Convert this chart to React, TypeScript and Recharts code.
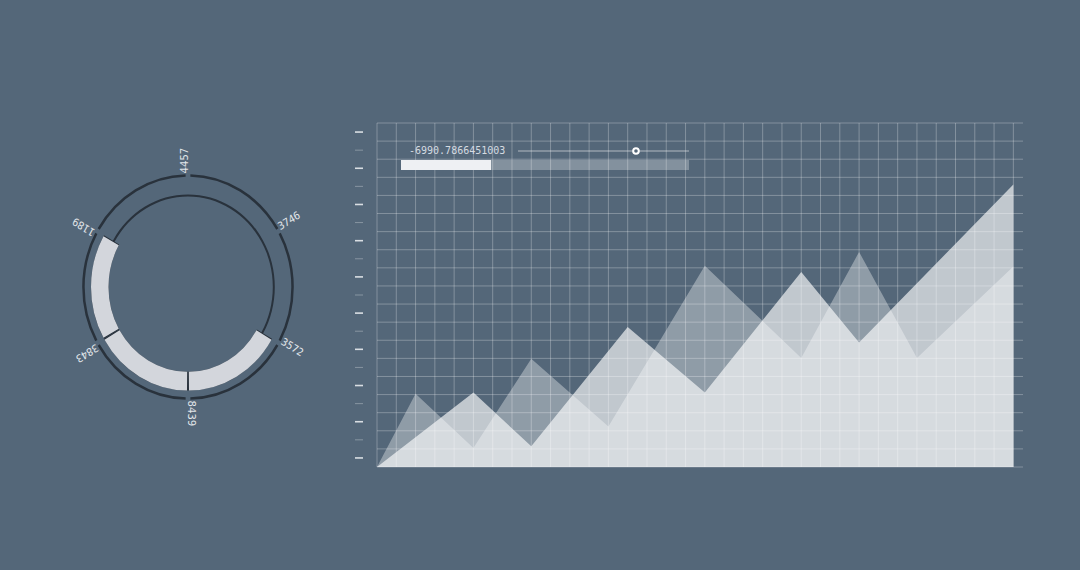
import {
  Area,
  AreaChart,
  Bar,
  BarChart,
  CartesianGrid,
  Cell,
  Line,
  LineChart,
  Pie,
  PieChart,
  ReferenceDot,
  XAxis,
  YAxis,
} from 'recharts';

// ring (left)
const RING_LABELS = ['4457', '3746', '3572', '8439', '3843', '1189'];
const RING_BAND = [0, 0, 1, 1, 1, 0];

// area chart (right)
const AREA_X = [0, 2, 5, 8, 12, 13, 17, 22, 25, 28, 33];
const SERIE_A = [0, 4.05, 1.05, 5.98, 2.24, null, 11.12, 6.02, 11.88, 6.02, 11.07];
const SERIE_B = [0, null, 4.12, 1.14, null, 7.73, 4.12, 10.77, 6.88, null, 15.6];

const X_GRID = [0, 1, 2, 3, 4, 5, 6, 7, 8, 9, 10, 11, 12, 13, 14, 15, 16, 17, 18, 19, 20, 21, 22, 23, 24, 25, 26, 27, 28, 29, 30, 31, 32, 33];
const Y_GRID = [0, 1, 2, 3, 4, 5, 6, 7, 8, 9, 10, 11, 12, 13, 14, 15, 16, 17, 18, 19];
const Y_MARKS = [0.5, 1.5, 2.5, 3.5, 4.5, 5.5, 6.5, 7.5, 8.5, 9.5, 10.5, 11.5, 12.5, 13.5, 14.5, 15.5, 16.5, 17.5, 18.5];

// slider widget
const SLIDER_LABEL = '-6990.7866451003';
const SLIDER_TRACK = [{ t: 0, v: 0 }, { t: 1, v: 0 }];
const SLIDER_KNOB = 0.69;
const PROGRESS = [{ name: 'progreso', done: 0.3125, rest: 0.6875 }];

const BG = '#546779';
const DARK = '#29323c';
const LIGHT = '#d3d6dc';
const MONO = '"DejaVu Sans Mono", "Liberation Mono", monospace';

const ringData = RING_LABELS.map((label, i) => ({ label, slot: 1, on: RING_BAND[i] }));
const areaData = AREA_X.map((x, i) => ({ x, a: SERIE_A[i], b: SERIE_B[i] }));

const RING_GAP = 2.6;
const BAND_GAP = 1.2;

function RingLabel(props: any) {
  const { cx, cy, midAngle, index, name } = props;
  const rad = Math.PI / 180;
  const r = 106.5;
  const x = cx + r * Math.cos(-midAngle * rad);
  const y = cy + r * Math.sin(-midAngle * rad);
  return (
    <text
      x={x}
      y={y}
      transform={`rotate(${-midAngle} ${x} ${y})`}
      textAnchor="start"
      fill="#e2e6ea"
      fontSize={10}
      fontFamily={MONO}
    >
      {name ?? RING_LABELS[index]}
    </text>
  );
}

function MarkTick(props: any) {
  const { x, y, index } = props;
  const strong = index % 2 === 0;
  return (
    <line
      x1={x - 22}
      x2={x - 14}
      y1={y}
      y2={y}
      stroke="#e8ebee"
      strokeOpacity={strong ? 0.9 : 0.35}
      strokeWidth={strong ? 1.6 : 1}
    />
  );
}

export default function App() {
  return (
    <div style={{ position: 'absolute', left: 0, top: 0, width: 1080, height: 570, background: BG, overflow: 'hidden' }}>
      {/* anillo */}
      <div
        style={{
          position: 'absolute',
          left: 37.8,
          top: 136.5,
          width: 300,
          height: 300,
          transform: 'scaleY(1.067)',
          transformOrigin: 'center',
        }}
      >
        <PieChart width={300} height={300} margin={{ top: 0, right: 0, bottom: 0, left: 0 }}>
          <Pie
            data={[{ label: 'inner', slot: 1 }]}
            dataKey="slot"
            cx="50%"
            cy="50%"
            innerRadius={84.8}
            outerRadius={86.8}
            startAngle={90}
            endAngle={-270}
            fill={DARK}
            stroke="none"
            isAnimationActive={false}
          />
          <Pie
            data={ringData}
            dataKey="slot"
            nameKey="label"
            cx="50%"
            cy="50%"
            innerRadius={79.5}
            outerRadius={97}
            startAngle={90}
            endAngle={-270}
            stroke="none"
            isAnimationActive={false}
          >
            {ringData.map((d, i) => (
              <Cell key={`track-${i}`} fill={d.on ? DARK : 'transparent'} />
            ))}
          </Pie>
          <Pie
            data={ringData}
            dataKey="slot"
            nameKey="label"
            cx="50%"
            cy="50%"
            innerRadius={79.5}
            outerRadius={97}
            startAngle={90 - BAND_GAP / 2}
            endAngle={-270 - BAND_GAP / 2}
            paddingAngle={BAND_GAP}
            stroke="none"
            isAnimationActive={false}
          >
            {ringData.map((d, i) => (
              <Cell key={`band-${i}`} fill={d.on ? LIGHT : 'transparent'} />
            ))}
          </Pie>
          <Pie
            data={ringData}
            dataKey="slot"
            nameKey="label"
            cx="50%"
            cy="50%"
            innerRadius={103.3}
            outerRadius={105.8}
            startAngle={90 - RING_GAP / 2}
            endAngle={-270 - RING_GAP / 2}
            paddingAngle={RING_GAP}
            fill={DARK}
            stroke="none"
            isAnimationActive={false}
          />
          <Pie
            data={ringData}
            dataKey="slot"
            nameKey="label"
            cx="50%"
            cy="50%"
            innerRadius={106}
            outerRadius={106}
            startAngle={120}
            endAngle={-240}
            fill="none"
            stroke="none"
            label={RingLabel}
            labelLine={false}
            isAnimationActive={false}
          />
        </PieChart>
      </div>

      {/* areas */}
      <div style={{ position: 'absolute', left: 340, top: 100, width: 700, height: 390 }}>
        <AreaChart width={700} height={390} data={areaData} margin={{ top: 23, right: 17, bottom: 23, left: 15 }}>
          <CartesianGrid
            horizontalValues={Y_GRID}
            verticalValues={X_GRID}
            stroke="#ffffff"
            strokeOpacity={0.28}
          />
          <XAxis type="number" dataKey="x" domain={[0, 33.5]} ticks={X_GRID} interval={0} hide />
          <YAxis
            type="number"
            domain={[0, 19]}
            ticks={Y_MARKS}
            interval={0}
            width={22}
            axisLine={false}
            tickLine={false}
            tickSize={0}
            tickMargin={0}
            tick={(p: any) => <MarkTick {...p} />}
          />
          <Area
            type="linear"
            dataKey="a"
            connectNulls
            fill="#ffffff"
            fillOpacity={0.35}
            stroke="none"
            dot={false}
            activeDot={false}
            isAnimationActive={false}
          />
          <Area
            type="linear"
            dataKey="b"
            connectNulls
            fill="#ffffff"
            fillOpacity={0.64}
            stroke="none"
            dot={false}
            activeDot={false}
            isAnimationActive={false}
          />
        </AreaChart>
      </div>

      {/* widget */}
      <div
        style={{
          position: 'absolute',
          left: 409,
          top: 145,
          fontFamily: MONO,
          fontSize: 10,
          lineHeight: '12px',
          color: '#d5dbe1',
          whiteSpace: 'nowrap',
        }}
      >
        {SLIDER_LABEL}
      </div>
      <div style={{ position: 'absolute', left: 518, top: 146, width: 171, height: 10 }}>
        <LineChart width={171} height={10} data={SLIDER_TRACK} margin={{ top: 0, right: 0, bottom: 0, left: 0 }}>
          <XAxis type="number" dataKey="t" domain={[0, 1]} hide />
          <YAxis type="number" domain={[-1, 1]} hide />
          <Line
            type="linear"
            dataKey="v"
            stroke="#ffffff"
            strokeOpacity={0.55}
            strokeWidth={1}
            dot={false}
            activeDot={false}
            isAnimationActive={false}
          />
          <ReferenceDot x={SLIDER_KNOB} y={0} r={2.8} fill={BG} stroke="#ffffff" strokeWidth={2} />
        </LineChart>
      </div>
      <div style={{ position: 'absolute', left: 401, top: 159.5, width: 288, height: 10 }}>
        <BarChart
          width={288}
          height={10}
          data={PROGRESS}
          layout="vertical"
          barCategoryGap={0}
          margin={{ top: 0, right: 0, bottom: 0, left: 0 }}
        >
          <XAxis type="number" domain={[0, 1]} hide />
          <YAxis type="category" dataKey="name" hide />
          <Bar dataKey="done" stackId="p" fill="#eef0f3" isAnimationActive={false} />
          <Bar dataKey="rest" stackId="p" fill="#ffffff" fillOpacity={0.28} isAnimationActive={false} />
        </BarChart>
      </div>
    </div>
  );
}
